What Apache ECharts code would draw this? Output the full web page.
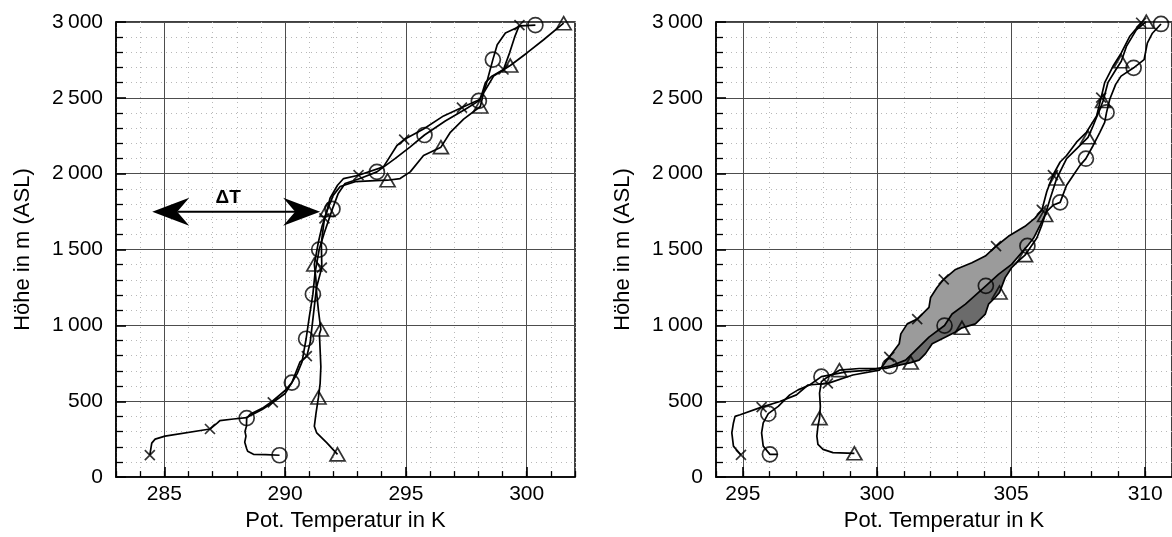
<!DOCTYPE html>
<html>
<head>
<meta charset="utf-8">
<script src="https://cdn.jsdelivr.net/npm/echarts@6/dist/echarts.min.js"></script>
<style>
  html, body { margin: 0; padding: 0; background: #fff; }
  #chart { width: 1172px; height: 537px; }
</style>
</head>
<body>
<div id="chart"></div>
<script>
// Potential temperature profiles, points are [theta in K, height in m ASL].
// Three soundings per panel: A (x markers), B (circles), C (triangles).

// ---- left panel ----
const leftA = [[284.4,145],[284.48,224],[284.62,250],[285.03,270],[286.89,317],[287.2,357],[287.3,372],
  [287.86,383],[288.41,392],[288.55,405],[289.05,446],[289.49,492],[290.0,551],[290.28,623],[290.46,695],
  [290.62,760],[290.9,797],[291.04,890],[291.16,1054],[291.3,1250],[291.52,1381],[291.5,1544],[291.63,1705],
  [291.74,1760],[291.86,1838],[292.17,1924],[292.42,1968],[293.04,1990],[294.07,2045],[294.63,2186],
  [294.93,2225],[295.73,2295],[296.56,2381],[297.32,2436],[298.08,2491],[298.29,2600],[298.56,2643],
  [299.04,2687],[299.3,2800],[299.5,2900],[299.7,2980]];
const leftAMarks = [[284.4,145],[286.89,317],[289.49,492],[290.9,797],[291.52,1381],[291.63,1705],
  [293.04,1990],[294.93,2225],[297.32,2436],[299.04,2687],[299.7,2980]];

const leftB = [[289.77,144],[289.2,148],[288.69,150],[288.45,170],[288.41,187],[288.33,230],[288.38,270],
  [288.34,300],[288.4,336],[288.41,389],[288.55,414],[289.05,453],[289.46,499],[290.0,571],[290.28,623],
  [290.5,682],[290.7,760],[290.87,912],[291.0,1054],[291.15,1206],[291.24,1347],[291.41,1500],[291.62,1609],
  [291.96,1768],[292.2,1870],[292.48,1935],[293.1,1968],[293.8,2012],[294.55,2099],[295.18,2177],
  [295.77,2255],[296.63,2347],[297.46,2425],[298.02,2480],[298.29,2569],[298.49,2687],[298.6,2752],
  [298.78,2850],[299.12,2928],[299.74,2974],[300.36,2980]];
const leftBMarks = [[289.77,144],[288.41,389],[290.28,623],[290.87,912],[291.15,1206],[291.41,1500],
  [291.96,1768],[293.8,2012],[295.77,2255],[298.02,2480],[298.6,2752],[300.36,2980]];

const leftC = [[292.17,150],[291.73,226],[291.31,291],[291.21,335],[291.28,422],[291.38,525],[291.45,618],
  [291.48,727],[291.45,836],[291.42,944],[291.48,973],[291.38,1097],[291.31,1206],[291.27,1315],
  [291.21,1402],[291.37,1543],[291.53,1654],[291.75,1761],[291.99,1857],[292.28,1916],[292.9,1948],
  [293.73,1955],[294.24,1957],[294.76,1968],[295.18,2012],[295.73,2120],[296.45,2175],[296.84,2273],
  [297.39,2360],[298.08,2443],[298.22,2534],[298.63,2643],[299.32,2713],[300.01,2796],[300.7,2883],
  [301.53,2992]];
const leftCMarks = [[292.17,150],[291.38,525],[291.48,973],[291.21,1402],[291.75,1761],[294.24,1957],
  [296.45,2175],[298.08,2443],[299.32,2713],[301.53,2992]];

// inversion strength annotation (arrow from, arrow to, height)
const deltaT = { from: 284.5, to: 291.45, height: 1750, label: 'ΔT' };

// ---- right panel ----
const rightA = [[294.93,146],[294.65,204],[294.59,291],[294.65,357],[294.71,400],[294.9,411],[295.7,461],
  [296.38,498],[297.0,542],[297.43,607],[298.17,618],[299.1,673],[300.09,705],[300.46,792],[300.83,879],
  [300.89,944],[301.13,1010],[301.5,1042],[301.94,1119],[302.0,1184],[302.24,1250],[302.49,1304],
  [302.93,1369],[303.54,1413],[304.04,1457],[304.44,1522],[304.9,1587],[305.52,1653],[305.89,1707],
  [306.15,1761],[306.33,1881],[306.56,1990],[306.83,2077],[307.07,2120],[307.44,2208],[307.81,2273],
  [308.19,2381],[308.36,2502],[308.49,2600],[308.8,2708],[309.11,2796],[309.42,2904],[309.85,2995]];
const rightAMarks = [[294.93,146],[295.7,461],[298.17,618],[300.46,792],[301.5,1042],[302.49,1304],
  [304.44,1522],[306.15,1761],[306.56,1990],[308.36,2502],[309.85,2995]];

const rightB = [[296.3,150],[296.01,150],[295.76,204],[295.7,291],[295.76,357],[295.95,418],[296.32,466],
  [296.75,542],[297.06,575],[297.49,607],[297.93,662],[298.85,694],[299.72,705],[300.48,731],[301.07,771],
  [301.44,836],[301.94,923],[302.52,999],[302.8,1075],[303.3,1140],[304.06,1261],[304.53,1336],
  [305.02,1402],[305.61,1524],[305.84,1576],[306.09,1663],[306.33,1751],[306.58,1794],[306.83,1811],
  [307.07,1924],[307.32,1990],[307.57,2055],[307.79,2099],[308.06,2186],[308.31,2273],[308.49,2338],
  [308.56,2404],[308.68,2491],[308.9,2589],[309.1,2643],[309.57,2698],[309.96,2752],[310.08,2861],
  [310.27,2926],[310.59,2987]];
const rightBMarks = [[296.01,150],[295.95,418],[297.93,662],[300.48,731],[302.52,999],[304.06,1261],
  [305.61,1524],[306.83,1811],[307.79,2099],[308.56,2404],[309.57,2698],[310.59,2987]];

const rightC = [[299.16,157],[298.36,161],[297.99,183],[297.8,216],[297.76,270],[297.8,335],[297.86,389],
  [297.89,466],[297.86,553],[297.93,629],[298.09,651],[298.6,705],[299.34,716],[300.33,716],[300.83,738],
  [301.26,755],[301.57,771],[301.81,814],[302.06,879],[302.56,923],[302.93,956],[303.17,984],[303.67,1010],
  [304.04,1075],[304.16,1140],[304.41,1184],[304.57,1217],[304.78,1315],[305.02,1380],[305.27,1424],
  [305.52,1463],[305.96,1576],[306.15,1663],[306.27,1728],[306.46,1837],[306.7,1968],[307.07,2099],
  [307.44,2164],[307.87,2240],[308.06,2316],[308.31,2425],[308.43,2479],[308.61,2600],[308.91,2687],
  [309.11,2741],[309.3,2839],[309.67,2948],[310.04,3002]];
const rightCMarks = [[299.16,157],[297.86,389],[298.6,705],[301.26,755],[303.17,984],[304.57,1217],
  [305.52,1463],[306.27,1728],[306.7,1968],[307.87,2240],[308.43,2479],[309.11,2741],[310.04,3002]];

// height bands of the shaded layers between neighbouring profiles
const bandAB = [700, 1765];
const bandBC = [720, 1470];

// axis ranges and labelled ticks
const leftRange = [283, 302];
const rightRange = [294, 311];
const leftTicks = [285, 290, 295, 300];
const rightTicks = [295, 300, 305, 310];
const heightRange = [0, 3000];

const FONT = '"Liberation Sans", Arial, Helvetica, sans-serif';
const CROSS = 'path://M0,0L10,10M10,0L0,10';

function xAxes(gridIndex, range, ticks) {
  return [
    { // 1 K steps: dotted grid, short ticks
      type: 'value', gridIndex, min: range[0], max: range[1], interval: 1, position: 'bottom',
      axisLine: { show: false }, axisLabel: { show: false },
      axisTick: { show: true, inside: true, length: 6, lineStyle: { color: '#000', width: 1.3 } },
      splitLine: { show: true, lineStyle: { color: '#b8b8b8', width: 1, type: [1, 4] } }
    },
    { // 5 K steps: labelled
      type: 'value', gridIndex, min: range[0], max: range[1], splitNumber: 4, position: 'bottom',
      axisLine: { show: true, onZero: false, lineStyle: { color: '#000', width: 1.5 } },
      axisTick: { show: true, inside: true, length: 10, customValues: ticks, lineStyle: { color: '#000', width: 1.6 } },
      axisLabel: { customValues: ticks, color: '#000', fontSize: 21, fontFamily: FONT, margin: 7 },
      splitLine: { show: true, lineStyle: { color: '#4d4d4d', width: 1 } },
      name: 'Pot. Temperatur in K', nameLocation: 'middle', nameGap: 32,
      nameTextStyle: { color: '#000', fontSize: 22, fontFamily: FONT }
    }
  ];
}

function yAxis(gridIndex) {
  return {
    type: 'value', gridIndex, min: heightRange[0], max: heightRange[1], interval: 500,
    axisLine: { show: true, onZero: false, lineStyle: { color: '#000', width: 1.5 } },
    axisTick: { show: true, inside: true, length: 10, lineStyle: { color: '#000', width: 1.6 } },
    minorTick: { show: true, splitNumber: 5, length: 7, lineStyle: { color: '#000', width: 1.3 } },
    axisLabel: {
      color: '#000', fontSize: 21, fontFamily: FONT, margin: 13,
      formatter: v => v >= 1000 ? Math.floor(v / 1000) + '\u2009' + String(v % 1000).padStart(3, '0') : String(v)
    },
    splitLine: { show: true, lineStyle: { color: '#4d4d4d', width: 1 } },
    minorSplitLine: { show: true, lineStyle: { color: '#b8b8b8', width: 1, type: [1, 4] } },
    name: 'Höhe in m (ASL)', nameLocation: 'middle', nameGap: 82,
    nameTextStyle: { color: '#000', fontSize: 22, fontFamily: FONT }
  };
}

function profile(data, xi, yi) {
  return {
    type: 'line', data, xAxisIndex: xi, yAxisIndex: yi, showSymbol: false, symbol: 'none',
    clip: false, z: 4, animation: false,
    lineStyle: { color: '#000', width: 1.7 }
  };
}

function marks(data, xi, yi, symbol, size) {
  return {
    type: 'scatter', data, xAxisIndex: xi, yAxisIndex: yi, symbol, symbolSize: size,
    clip: false, z: 5, animation: false,
    itemStyle: { color: 'rgba(0,0,0,0)', borderColor: '#000', borderWidth: 1.7 }
  };
}

const inBand = (pts, band) => pts.filter(p => p[1] >= band[0] && p[1] <= band[1]);

// shaded layer between a left and a right profile
function layer(leftPts, rightPts, band, fill, xi, yi) {
  const poly = inBand(leftPts, band).concat(inBand(rightPts, band).reverse());
  return {
    type: 'custom', xAxisIndex: xi, yAxisIndex: yi, z: 3, animation: false, clip: false,
    data: [poly[0]],
    renderItem: (params, api) => ({
      type: 'polygon',
      shape: { points: poly.map(p => api.coord(p)) },
      style: { fill, stroke: null }
    })
  };
}

const arrowSeries = {
  type: 'custom', xAxisIndex: 1, yAxisIndex: 0, z: 6, animation: false, clip: false,
  data: [[deltaT.from, deltaT.height]],
  renderItem: (params, api) => {
    const a = api.coord([deltaT.from, deltaT.height]);
    const b = api.coord([deltaT.to, deltaT.height]);
    const L = 37, H = 14, N = 25;
    return {
      type: 'group',
      children: [
        { type: 'line', shape: { x1: a[0] + N, y1: a[1], x2: b[0] - N, y2: b[1] },
          style: { stroke: '#000', lineWidth: 2 } },
        { type: 'polygon', shape: { points: [[a[0], a[1]], [a[0] + L, a[1] - H], [a[0] + N, a[1]], [a[0] + L, a[1] + H]] },
          style: { fill: '#000' } },
        { type: 'polygon', shape: { points: [[b[0], b[1]], [b[0] - L, b[1] - H], [b[0] - N, b[1]], [b[0] - L, b[1] + H]] },
          style: { fill: '#000' } },
        { type: 'text', x: (a[0] + b[0]) / 2 - 8, y: a[1] - 14,
          style: { text: deltaT.label, font: 'bold 19px ' + FONT, fill: '#000', align: 'center', verticalAlign: 'middle' } }
      ]
    };
  }
};

const chart = echarts.init(document.getElementById('chart'), null, { renderer: 'canvas' });
chart.setOption({
  animation: false,
  backgroundColor: '#fff',
  grid: [
    { left: 116, top: 22, width: 459, height: 459, show: true, borderColor: '#000', borderWidth: 1.5, backgroundColor: 'transparent' },
    { left: 716, top: 22, width: 459, height: 459, show: true, borderColor: '#000', borderWidth: 1.5, backgroundColor: 'transparent' }
  ],
  xAxis: [...xAxes(0, leftRange, leftTicks), ...xAxes(1, rightRange, rightTicks)],
  yAxis: [yAxis(0), yAxis(1)],
  series: [
    profile(leftA, 1, 0), profile(leftB, 1, 0), profile(leftC, 1, 0),
    marks(leftAMarks, 1, 0, CROSS, 10), marks(leftBMarks, 1, 0, 'circle', 15), marks(leftCMarks, 1, 0, 'triangle', [15, 13]),
    arrowSeries,
    layer(rightA, rightB, bandAB, '#9b9b9b', 3, 1),
    layer(rightB, rightC, bandBC, '#6b6b6b', 3, 1),
    profile(rightA, 3, 1), profile(rightB, 3, 1), profile(rightC, 3, 1),
    marks(rightAMarks, 3, 1, CROSS, 10), marks(rightBMarks, 3, 1, 'circle', 15), marks(rightCMarks, 3, 1, 'triangle', [15, 13])
  ]
});
</script>
</body>
</html>
